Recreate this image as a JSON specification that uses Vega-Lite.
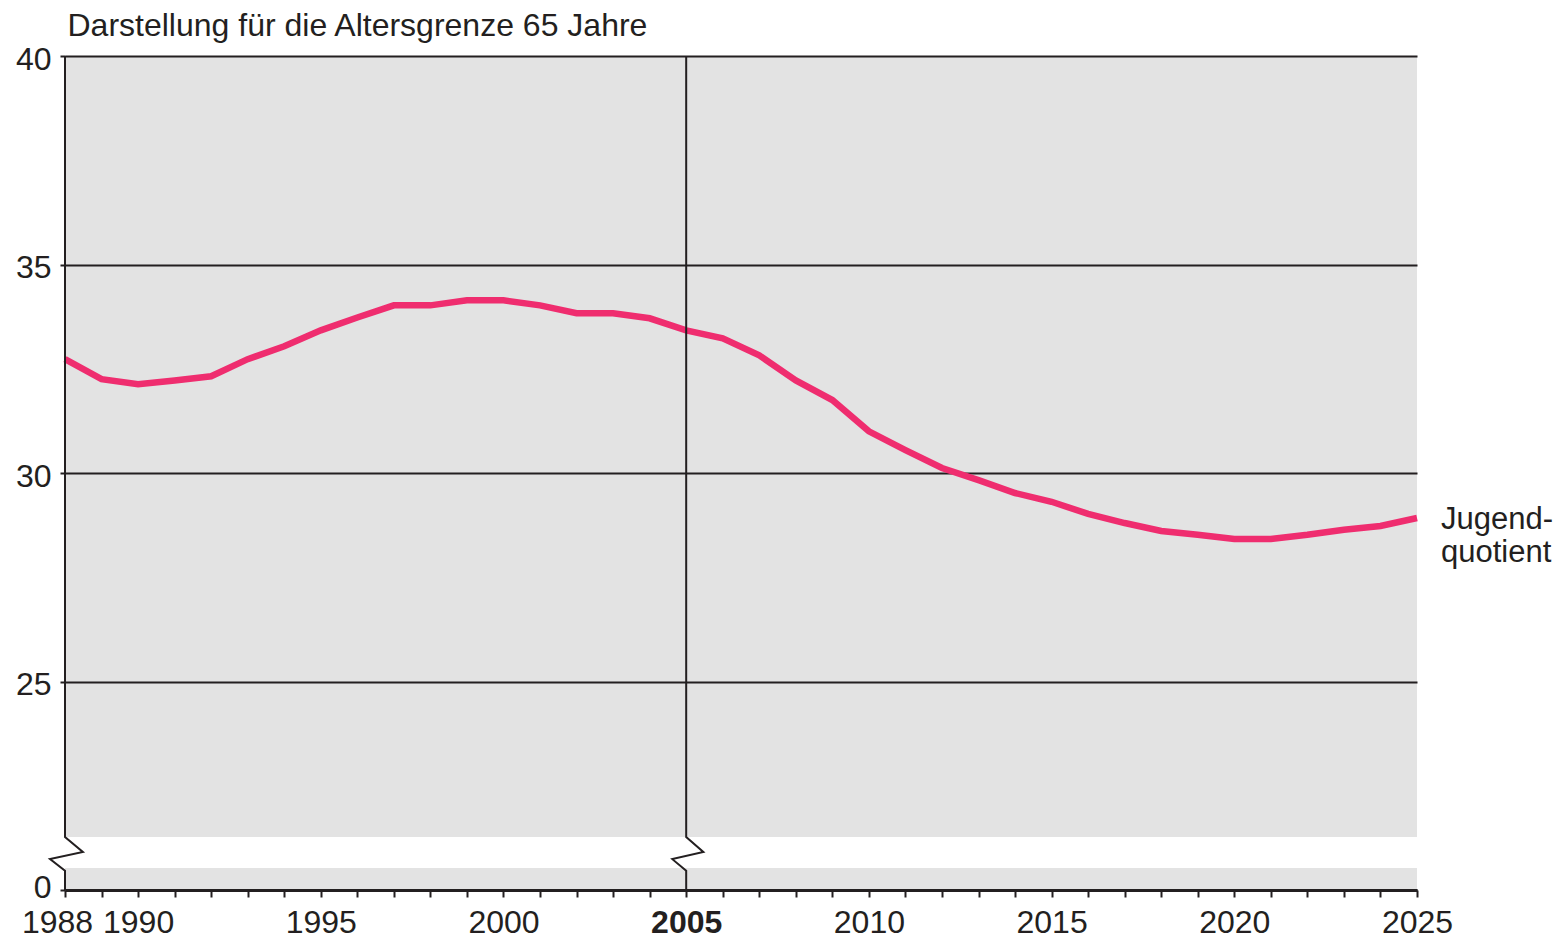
{
  "$schema": "https://vega.github.io/schema/vega-lite/v6.json",
  "width": 1352,
  "height": 834,
  "autosize": "none",
  "padding": {"left": 65, "top": 56, "right": 144, "bottom": 52},
  "background": "white",
  "config": {
    "view": {"fill": "#e3e3e3", "stroke": null},
    "font": "Liberation Sans"
  },
  "datasets": {
    "series": [
      {"year": 1988, "value": 32.73},
      {"year": 1989, "value": 32.25},
      {"year": 1990, "value": 32.13},
      {"year": 1991, "value": 32.22},
      {"year": 1992, "value": 32.32},
      {"year": 1993, "value": 32.73},
      {"year": 1994, "value": 33.04},
      {"year": 1995, "value": 33.42},
      {"year": 1996, "value": 33.73},
      {"year": 1997, "value": 34.02},
      {"year": 1998, "value": 34.02},
      {"year": 1999, "value": 34.14},
      {"year": 2000, "value": 34.14},
      {"year": 2001, "value": 34.02},
      {"year": 2002, "value": 33.83},
      {"year": 2003, "value": 33.83},
      {"year": 2004, "value": 33.71},
      {"year": 2005, "value": 33.42},
      {"year": 2006, "value": 33.23},
      {"year": 2007, "value": 32.82},
      {"year": 2008, "value": 32.22},
      {"year": 2009, "value": 31.75},
      {"year": 2010, "value": 31.0},
      {"year": 2011, "value": 30.55},
      {"year": 2012, "value": 30.12},
      {"year": 2013, "value": 29.83},
      {"year": 2014, "value": 29.52},
      {"year": 2015, "value": 29.31},
      {"year": 2016, "value": 29.02},
      {"year": 2017, "value": 28.8},
      {"year": 2018, "value": 28.61},
      {"year": 2019, "value": 28.52},
      {"year": 2020, "value": 28.42},
      {"year": 2021, "value": 28.42},
      {"year": 2022, "value": 28.52},
      {"year": 2023, "value": 28.64},
      {"year": 2024, "value": 28.73},
      {"year": 2025, "value": 28.92}
    ],
    "breakband": [
      {"x1": 1988, "x2": 2025, "y1": 20.53, "y2": 21.27}
    ],
    "axislines": [
      {"grp": "left", "ord": 1, "x": 1988, "y": 40},
      {"grp": "left", "ord": 2, "x": 1988, "y": 21.27},
      {"grp": "left", "ord": 3, "x": 1988.49, "y": 20.91},
      {"grp": "left", "ord": 4, "x": 1987.59, "y": 20.74},
      {"grp": "left", "ord": 5, "x": 1988, "y": 20.46},
      {"grp": "left", "ord": 6, "x": 1988, "y": 20},
      {"grp": "y2005", "ord": 1, "x": 2005, "y": 40},
      {"grp": "y2005", "ord": 2, "x": 2005, "y": 21.27},
      {"grp": "y2005", "ord": 3, "x": 2005.47, "y": 20.91},
      {"grp": "y2005", "ord": 4, "x": 2004.62, "y": 20.74},
      {"grp": "y2005", "ord": 5, "x": 2005, "y": 20.46},
      {"grp": "y2005", "ord": 6, "x": 2005, "y": 20}
    ],
    "label": [
      {"year": 2025, "value": 28.92, "text": ["Jugend-", "quotient"]}
    ]
  },
  "encoding": {
    "x": {
      "field": "year",
      "type": "quantitative",
      "scale": {"domain": [1988, 2025], "nice": false, "zero": false},
      "axis": {
        "title": null,
        "grid": false,
        "values": [1988,1989,1990,1991,1992,1993,1994,1995,1996,1997,1998,1999,2000,2001,2002,2003,2004,2005,2006,2007,2008,2009,2010,2011,2012,2013,2014,2015,2016,2017,2018,2019,2020,2021,2022,2023,2024,2025],
        "labelExpr": "indexof([1988,1990,1995,2000,2005,2010,2015,2020,2025], datum.value) >= 0 ? format(datum.value, 'd') : ''",
        "labelFontWeight": {"condition": {"test": "datum.value == 2005", "value": "bold"}, "value": "normal"},
        "labelOffset": {"condition": {"test": "datum.value == 1988", "value": -8}, "value": 0},
        "labelFontSize": 32,
        "labelColor": "#231f20",
        "labelPadding": 10,
        "labelFlush": false,
        "labelOverlap": false,
        "domainColor": "#231f20",
        "domainWidth": 3,
        "tickColor": "#231f20",
        "tickWidth": 2,
        "tickSize": 7
      }
    },
    "y": {
      "field": "value",
      "type": "quantitative",
      "scale": {"domain": [20, 40], "nice": false, "zero": false},
      "axis": {
        "title": "Darstellung für die Altersgrenze 65 Jahre",
        "titleAngle": 0,
        "titleAlign": "left",
        "titleBaseline": "alphabetic",
        "titleX": 2,
        "titleY": -21,
        "titleFontSize": 32,
        "titleFontWeight": "normal",
        "titleColor": "#231f20",
        "domain": false,
        "values": [20, 25, 30, 35, 40],
        "labelExpr": "datum.value == 20 ? '0' : datum.label",
        "labelOffset": {"condition": {"test": "datum.value == 20", "value": -3}, "value": 3},
        "grid": true,
        "gridColor": "#231f20",
        "gridWidth": 2,
        "gridOpacity": 1,
        "labelFontSize": 32,
        "labelColor": "#231f20",
        "labelPadding": 9,
        "tickColor": "#231f20",
        "tickWidth": 2,
        "tickSize": 5
      }
    }
  },
  "layer": [
    {
      "data": {"name": "breakband"},
      "mark": {"type": "rect", "fill": "white"},
      "encoding": {
        "x": {"field": "x1", "type": "quantitative"},
        "x2": {"field": "x2"},
        "y": {"field": "y1", "type": "quantitative"},
        "y2": {"field": "y2"}
      }
    },
    {
      "data": {"name": "series"},
      "mark": {"type": "line", "color": "#ef2d6f", "strokeWidth": 6.5, "strokeJoin": "miter"},
      "encoding": {}
    },
    {
      "data": {"name": "axislines"},
      "mark": {"type": "line", "color": "#231f20", "strokeWidth": 2, "clip": false, "strokeJoin": "miter"},
      "encoding": {
        "x": {"field": "x", "type": "quantitative"},
        "y": {"field": "y", "type": "quantitative"},
        "detail": {"field": "grp"},
        "order": {"field": "ord"}
      }
    },
    {
      "data": {"name": "label"},
      "mark": {"type": "text", "align": "left", "baseline": "middle", "dx": 24, "dy": 2, "fontSize": 31, "lineHeight": 33, "color": "#231f20"},
      "encoding": {
        "text": {"field": "text"}
      }
    }
  ]
}
